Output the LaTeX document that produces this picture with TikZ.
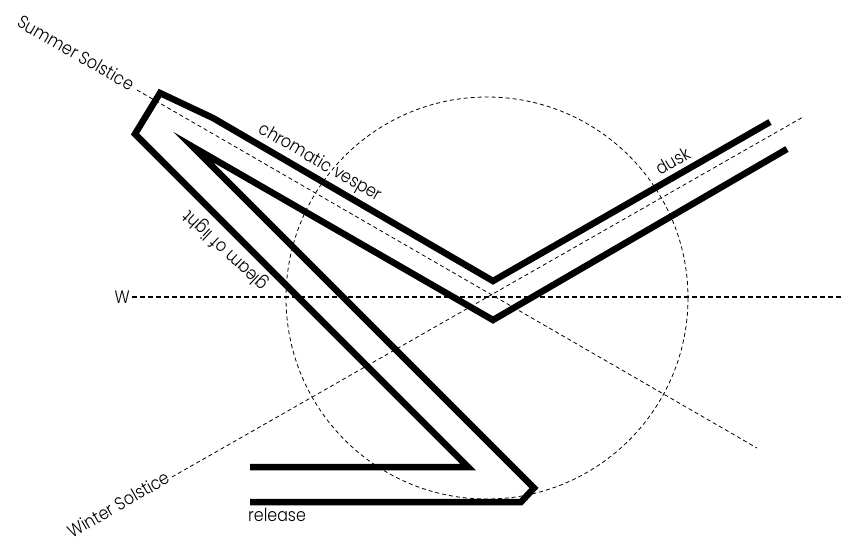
\documentclass[tikz,border=0pt]{standalone}
\usepackage{fontspec}
\setmainfont{Poppins}[UprightFont=* Light,FakeStretch=0.88]
\begin{document}
\begin{tikzpicture}[x=1pt,y=-1pt,
  wall/.style={line width=6.5pt,line join=miter,miter limit=10},
  axis/.style={line width=0.8pt,dash pattern=on 4pt off 3pt},
  waxis/.style={line width=1.1pt,dash pattern=on 5pt off 3pt},
  lbl/.style={inner sep=1pt,font=\fontsize{18}{20}\selectfont}]
\useasboundingbox (0,0) rectangle (843,542);
% construction lines
\coordinate (c) at (487,298);
\draw[axis] (c) circle[radius=201];
\coordinate (w0) at (132,297);
\coordinate (w1) at (843,297);
\draw[waxis] (w0) -- (w1);
\coordinate (s0) at (137,90);
\coordinate (s1) at (757,448);
\draw[axis] (s0) -- (s1);
\coordinate (t0) at (172,477);
\coordinate (t1) at (803,117);
\draw[axis] (t0) -- (t1);
% thick walls
\draw[wall] (770,122) -- (493,281) -- (213,118) -- (160,93) -- (135,134) -- (468,467) -- (250,467);
\draw[wall] (787,149) -- (493,320) -- (193,147) -- (534,488) -- (521,502) -- (250,502);
% labels
\node[lbl,anchor=east,rotate=-30] (ss) at ([shift={(-3,-4)}]s0) {Summer Solstice};
\node[lbl,anchor=east,rotate=30] (ws) at ([shift={(-3,-2)}]t0) {Winter Solstice};
\node[lbl,anchor=east] (wl) at ([shift={(-1,0)}]w0) {W};
\node[lbl,anchor=north west] (rel) at (247,507) {release};
\node[lbl,rotate=-30] (cv) at (320,163) {chromatic vesper};
\node[lbl,rotate=30] (dk) at (673,161) {dusk};
\node[lbl,rotate=137] (gl) at (226,250) {gleam of light};
\end{tikzpicture}
\end{document}
